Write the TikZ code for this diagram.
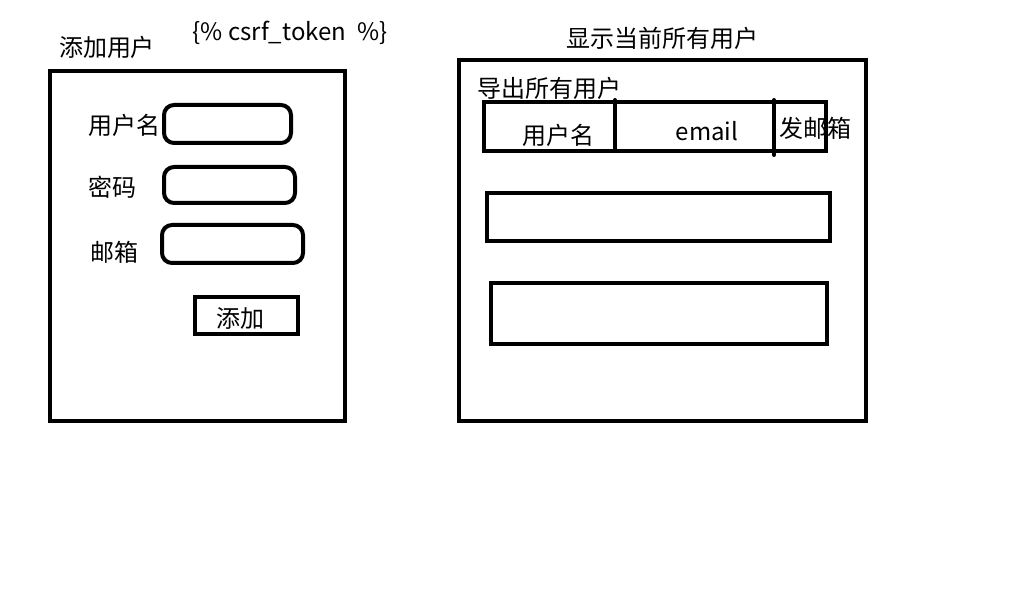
\documentclass[tikz,border=0pt]{standalone}
\usepackage{fontspec}
\setmainfont{Noto Sans CJK SC}
\begin{document}
\begin{tikzpicture}[x=1pt,y=-1pt,
  box/.style={draw=black,line width=4pt,inner sep=0pt,fill=none},
  rbox/.style={box,rounded corners=10pt},
  lbl/.style={inner sep=0pt,font=\fontsize{24}{28}\selectfont},
  sep/.style={draw=black,line width=4pt,line cap=round}]
\useasboundingbox[fill=white] (0,0) rectangle (1018,604);
% left panel
\node[lbl] (addtitle) at (107,47) {添加用户};
\node[lbl] (csrf) at (290,33) {\{\% csrf\_token\ \ \%\}};
\node[box,minimum width=295pt,minimum height=350pt] (left) at (197.5,246) {};
\node[lbl] (ulbl) at (124,125) {用户名};
\node[rbox,minimum width=127pt,minimum height=38pt] (ubox) at (227.5,124) {};
\node[lbl] (plbl) at (112,187) {密码};
\node[rbox,minimum width=131pt,minimum height=36pt] (pbox) at (229.5,185) {};
\node[lbl] (elbl) at (114,252) {邮箱};
\node[rbox,minimum width=141pt,minimum height=38pt] (ebox) at (232.5,244) {};
\node[box,minimum width=103pt,minimum height=37pt] (addbtn) at (246.5,315.5) {};
\node[lbl] (addtxt) at (240,318) {添加};
% right panel
\node[lbl] (showtitle) at (662,38) {显示当前所有用户};
\node[box,minimum width=407pt,minimum height=361pt] (right) at (662.5,240.5) {};
\node[lbl] (export) at (549,88) {导出所有用户};
\node[box,minimum width=342pt,minimum height=49pt] (header) at (655,126.5) {};
\coordinate (s1t) at (615,100);
\coordinate (s1b) at (615,151);
\coordinate (s2t) at (774,100);
\coordinate (s2b) at (774,155);
\draw[sep] (s1t) -- (s1b);
\draw[sep] (s2t) -- (s2b);
\node[lbl] (hname) at (558,135) {用户名};
\node[lbl] (hemail) at (707,131) {email};
\node[lbl] (hsend) at (815,128) {发邮箱};
\node[box,minimum width=343pt,minimum height=48pt] (row2) at (658.5,217) {};
\node[box,minimum width=336pt,minimum height=61pt] (row3) at (659,313.5) {};
\end{tikzpicture}
\end{document}
